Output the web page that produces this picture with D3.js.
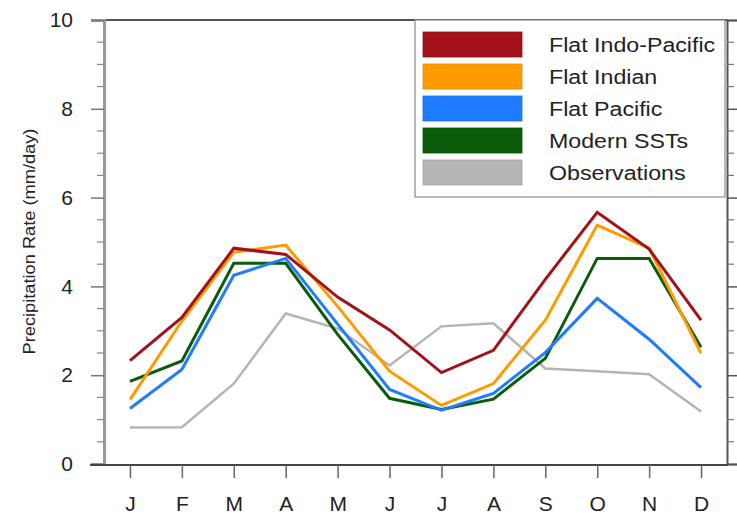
<!DOCTYPE html>
<html>
<head>
<meta charset="utf-8">
<script src="https://cdn.jsdelivr.net/npm/d3@7/dist/d3.min.js"></script>
<style>
  html, body { margin: 0; padding: 0; background: #fff; }
  svg { display: block; font-family: "Liberation Sans", Arial, Helvetica, sans-serif; }
</style>
</head>
<body>
<svg id="chart" width="737" height="515"></svg>
<script>
// Monthly precipitation climatology, mm/day
const months = ["J", "F", "M", "A", "M", "J", "J", "A", "S", "O", "N", "D"];
const flatIndoPacific = [2.33, 3.30, 4.86, 4.72, 3.76, 3.02, 2.06, 2.56, 4.16, 5.67, 4.84, 3.24];
const flatIndian      = [1.45, 3.22, 4.77, 4.93, 3.55, 2.09, 1.32, 1.81, 3.24, 5.38, 4.86, 2.49];
const flatPacific     = [1.25, 2.13, 4.25, 4.63, 3.15, 1.68, 1.21, 1.59, 2.51, 3.73, 2.81, 1.72];
const modernSSTs      = [1.86, 2.32, 4.52, 4.52, 2.92, 1.48, 1.23, 1.46, 2.38, 4.63, 4.63, 2.63];
const observations    = [0.82, 0.83, 1.81, 3.39, 3.05, 2.22, 3.10, 3.17, 2.15, 2.09, 2.02, 1.18];
const yTicks = [0, 2, 4, 6, 8, 10];
const yLabel = "Precipitation Rate (mm/day)";

const series = [
  { name: "Flat Indo-Pacific", values: flatIndoPacific, color: "#a3111b", width: 3 },
  { name: "Flat Indian",       values: flatIndian,      color: "#ff9a00", width: 3 },
  { name: "Flat Pacific",      values: flatPacific,     color: "#1f7bff", width: 3 },
  { name: "Modern SSTs",       values: modernSSTs,      color: "#0a5c0a", width: 3 },
  { name: "Observations",      values: observations,    color: "#b5b5b5", width: 2.5 }
];

const svg = d3.select("#chart");
const plotL = 104, plotR = 727, plotT = 20, plotB = 464;

const x = d3.scalePoint().domain(d3.range(months.length)).range([plotL, plotR]).padding(0.5);
const y = d3.scaleLinear().domain([0, 10]).range([plotB, plotT]);

// series lines, observations underneath
const line = d3.line().x((d, i) => x(i)).y(d => y(d));
const g = svg.append("g");
series.slice().reverse().forEach(s => {
  g.append("path")
    .datum(s.values)
    .attr("d", line)
    .attr("fill", "none")
    .attr("stroke", s.color)
    .attr("stroke-width", s.width)
    .attr("stroke-linejoin", "miter");
});

// frame
svg.append("line").attr("x1", plotL).attr("x2", plotR).attr("y1", plotT).attr("y2", plotT)
  .attr("stroke", "#555").attr("stroke-width", 2);

// left axis
const minor = d3.range(0, 10.01, 0.5).filter(v => v % 2 !== 0);
const leftAxis = d3.axisLeft(y).tickValues(yTicks).tickSize(13).tickPadding(18).tickFormat(d3.format("d"));
const la = svg.append("g").attr("transform", `translate(${plotL},0)`).call(leftAxis);
la.select(".domain").attr("stroke", "#9a9a9a").attr("stroke-width", 3);
la.selectAll(".tick line").attr("stroke", "#777").attr("stroke-width", 1.5);
la.selectAll(".tick text").attr("font-size", 21).attr("fill", "#222")
  .attr("font-family", "'Liberation Sans', Arial, sans-serif");
la.selectAll(".minor").data(minor).enter().append("line").attr("class", "minor")
  .attr("x1", -7).attr("x2", 0).attr("y1", d => y(d)).attr("y2", d => y(d))
  .attr("stroke", "#888").attr("stroke-width", 1.2);

// right axis
const rightAxis = d3.axisRight(y).tickValues(yTicks).tickSize(13).tickFormat("");
const ra = svg.append("g").attr("transform", `translate(${plotR},0)`).call(rightAxis);
ra.select(".domain").attr("stroke", "#555").attr("stroke-width", 2);
ra.selectAll(".tick line").attr("stroke", "#555").attr("stroke-width", 1.5);
ra.selectAll(".minor").data(minor).enter().append("line").attr("class", "minor")
  .attr("x1", 0).attr("x2", 7).attr("y1", d => y(d)).attr("y2", d => y(d))
  .attr("stroke", "#777").attr("stroke-width", 1.2);

// bottom axis
const bottomAxis = d3.axisBottom(x).tickSize(13).tickPadding(18).tickFormat(i => months[i]);
const ba = svg.append("g").attr("transform", `translate(0,${plotB + 1})`).call(bottomAxis);
ba.select(".domain").attr("stroke", "#444").attr("stroke-width", 2)
  .attr("d", `M${plotL - 14},0H${plotR + 1}`);
ba.selectAll(".tick line").attr("stroke", "#666").attr("stroke-width", 1.5);
ba.selectAll(".tick text").attr("font-size", 21).attr("fill", "#222")
  .attr("font-family", "'Liberation Sans', Arial, sans-serif");

// y axis title (slightly widened glyphs)
svg.append("text")
  .attr("transform", `translate(35,${(128 + 355) / 2}) rotate(-90) scale(1.14,1)`)
  .attr("text-anchor", "middle")
  .attr("font-size", 16)
  .attr("fill", "#222")
  .text(yLabel);

// legend
const lg = svg.append("g");
lg.append("rect").attr("x", 415).attr("y", plotT).attr("width", 310).attr("height", 177)
  .attr("fill", "#fff").attr("stroke", "#8a8a8a").attr("stroke-width", 1.2);
const rowY = d3.scaleLinear().domain([0, 4]).range([44.5, 172.5]);
series.forEach((s, i) => {
  lg.append("rect").attr("x", 423).attr("y", rowY(i) - 12.5).attr("width", 99).attr("height", 25)
    .attr("fill", s.color).attr("stroke", d3.color(s.color).darker(0.3)).attr("stroke-width", 0.8);
  lg.append("text")
    .attr("transform", `translate(549,${rowY(i)}) scale(1.16,1)`)
    .attr("dy", "0.35em")
    .attr("font-size", 20).attr("fill", "#222").text(s.name);
});
</script>
</body>
</html>
